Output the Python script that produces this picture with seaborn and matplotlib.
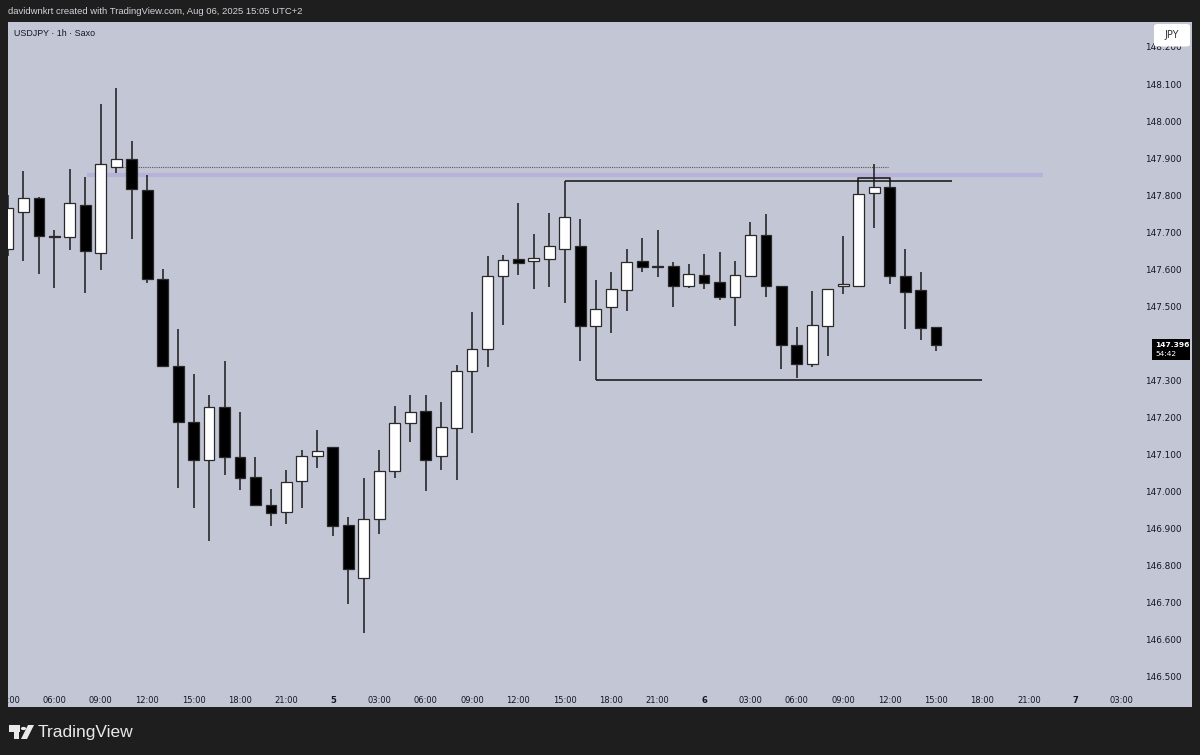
import numpy as np
import matplotlib.pyplot as plt
import seaborn as sns
from matplotlib.patches import Rectangle, FancyBboxPatch, Polygon, Circle
from matplotlib.transforms import Bbox, TransformedBbox

# --- Dados: velas de 1h do USDJPY (hora contada a partir de 04/08 00:00) ---
hours = list(range(3, 64))
opens = [147.655, 147.755, 147.793, 147.691, 147.687, 147.774, 147.645, 147.877, 147.897, 147.814,
         147.574, 147.339, 147.189, 147.085, 147.228, 147.093, 147.040, 146.964, 146.944, 147.028,
         147.096, 147.120, 146.909, 146.767, 146.925, 147.057, 147.184, 147.217, 147.096, 147.173,
         147.326, 147.385, 147.581, 147.628, 147.622, 147.627, 147.655, 147.664, 147.446, 147.497,
         147.543, 147.622, 147.608, 147.609, 147.556, 147.585, 147.565, 147.524, 147.581, 147.693,
         147.554, 147.396, 147.344, 147.448, 147.554, 147.556, 147.805, 147.823, 147.582, 147.544,
         147.444]
highs = [147.800, 147.865, 147.795, 147.706, 147.871, 147.850, 148.046, 148.090, 147.946, 147.854,
         147.600, 147.438, 147.318, 147.260, 147.353, 147.214, 147.094, 147.008, 147.058, 147.112,
         147.166, 147.120, 146.932, 147.036, 147.112, 147.231, 147.262, 147.260, 147.241, 147.341,
         147.485, 147.636, 147.639, 147.778, 147.696, 147.751, 147.837, 147.735, 147.571, 147.593,
         147.654, 147.684, 147.705, 147.621, 147.614, 147.641, 147.646, 147.623, 147.727, 147.749,
         147.556, 147.445, 147.542, 147.547, 147.690, 147.803, 147.884, 147.823, 147.654, 147.593,
         147.445]
lows = [147.636, 147.623, 147.587, 147.550, 147.652, 147.535, 147.598, 147.861, 147.681, 147.564,
        147.339, 147.009, 146.957, 146.867, 147.045, 147.004, 146.961, 146.908, 146.913, 146.955,
        147.064, 146.881, 146.697, 146.618, 146.885, 147.036, 147.133, 147.003, 147.058, 147.032,
        147.157, 147.336, 147.451, 147.584, 147.548, 147.553, 147.510, 147.353, 147.301, 147.429,
        147.488, 147.592, 147.580, 147.499, 147.549, 147.548, 147.518, 147.448, 147.581, 147.526,
        147.332, 147.308, 147.336, 147.367, 147.534, 147.556, 147.712, 147.560, 147.440, 147.408,
        147.380]
closes = [147.765, 147.793, 147.691, 147.686, 147.780, 147.649, 147.883, 147.897, 147.816, 147.575,
          147.340, 147.189, 147.085, 147.229, 147.094, 147.037, 146.965, 146.943, 147.025, 147.096,
          147.109, 146.908, 146.791, 146.925, 147.055, 147.185, 147.216, 147.085, 147.174, 147.326,
          147.386, 147.582, 147.626, 147.618, 147.630, 147.664, 147.742, 147.448, 147.493, 147.547,
          147.619, 147.606, 147.607, 147.556, 147.587, 147.562, 147.525, 147.584, 147.692, 147.554,
          147.396, 147.344, 147.449, 147.547, 147.560, 147.803, 147.821, 147.582, 147.539, 147.442,
          147.396]

# desenhos do usuário: (hora inicial, hora final, preço)
dotted_level = (10, 59.9, 147.877)
purple_level = (8.1, 69.9, 147.855)
range_top = (39, 64.0, 147.837)
range_bottom = (41, 66.0, 147.301)
bracket_x = [57.97, 57.97, 60.0, 60.0]
bracket_y = [147.803, 147.846, 147.846, 147.823]

# 147.400 fica escondido atrás do rótulo do último preço
price_ticks = [146.5, 146.6, 146.7, 146.8, 146.9, 147.0, 147.1, 147.2, 147.3,
               147.5, 147.6, 147.7, 147.8, 147.9, 148.0, 148.1, 148.2]
time_ticks = list(range(3, 76, 3))
day_labels = {24: "5", 48: "6", 72: "7"}
last_price_label = "147.396"
countdown_label = "54:42"

W, H = 1200, 755
BG = "#1e1e1e"
PANE = "#c3c6d4"
TXT = "#131722"


def fx(x):
    return x / W


def fy(y):
    return 1 - y / H


def main():
    sns.set_style("white")
    plt.rcParams['font.family'] = ['DejaVu Sans']

    fig = plt.figure(figsize=(12, 7.55), dpi=100, facecolor=BG)

    # painel claro do gráfico (atrás dos eixos)
    pane = Rectangle((fx(8), fy(707)), fx(1192) - fx(8), fy(22) - fy(707),
                     transform=fig.transFigure, facecolor=PANE, edgecolor="none", zorder=-5)
    fig.patches.append(pane)

    ax = fig.add_axes([fx(8), fy(685), fx(1137) - fx(8), fy(22) - fy(685)])
    ax.set_facecolor("none")
    for s in ax.spines.values():
        s.set_visible(False)

    # linhas horizontais desenhadas
    ax.hlines(purple_level[2], purple_level[0], purple_level[1], color="#b3addb",
              lw=3.0, alpha=0.8, zorder=1)
    ax.hlines(dotted_level[2], dotted_level[0], dotted_level[1], color="#55575f",
              lw=0.8, linestyles=(0, (1, 1)), zorder=1)
    ax.hlines(range_top[2], range_top[0], range_top[1], color="#111111", lw=1.1, zorder=1)
    ax.hlines(range_bottom[2], range_bottom[0], range_bottom[1], color="#111111", lw=1.1, zorder=1)
    ax.plot(bracket_x, bracket_y, color="#111111", lw=1.1, zorder=1)

    # velas
    o = np.array(opens)
    c = np.array(closes)
    up = c >= o
    ax.vlines(hours, lows, highs, color="#1a1a1a", lw=1.1, zorder=2)
    body_lo = np.minimum(o, c)
    body_h = np.maximum(np.abs(c - o), 0.0025)
    fills = np.where(up, "#ffffff", "#000000")
    ax.bar(hours, body_h, bottom=body_lo, width=0.7, color=fills,
           edgecolor="#2a2a2a", linewidth=0.9, zorder=3)

    ax.set_xlim(3.2956, 75.99)
    ax.set_ylim(146.4783, 148.2673)

    # eixo de preços à direita
    ax.yaxis.tick_right()
    ax.set_yticks(price_ticks)
    ax.set_yticklabels([f"{p:.3f}" for p in price_ticks])
    ax.tick_params(axis="y", length=0, pad=6, labelsize=6.4, labelcolor=TXT)

    # eixo de tempo
    ax.set_xticks(time_ticks)
    labels = [day_labels.get(h, f"{h % 24:02d}:00") for h in time_ticks]
    ax.set_xticklabels(labels)
    ax.tick_params(axis="x", length=0, pad=8, labelsize=6, labelcolor=TXT)
    clip = TransformedBbox(Bbox.from_extents(fx(8), fy(707), fx(1192), fy(22)), fig.transFigure)
    for lbl, h in zip(ax.get_xticklabels(), time_ticks):
        if h in day_labels:
            lbl.set_fontweight("bold")
        lbl.set_clip_box(clip)
        lbl.set_clip_on(True)

    # rótulo do último preço
    fig.canvas.draw()
    py = ax.transData.transform((0, closes[-1]))[1]
    ypix = H - py
    fig.patches.append(Rectangle((fx(1152), fy(ypix + 15)), fx(1190) - fx(1152), fy(ypix - 6) - fy(ypix + 15),
                                 transform=fig.transFigure, facecolor="#000000", edgecolor="none", zorder=5))
    fig.text(fx(1155), fy(ypix), last_price_label, color="white", fontsize=5.4, fontweight="bold",
             va="center", ha="left", zorder=6)
    fig.text(fx(1155), fy(ypix + 9), countdown_label, color="white", fontsize=5.4,
             va="center", ha="left", zorder=6)

    # caixa da moeda (cobre quase todo o 148.200)
    fig.patches.append(FancyBboxPatch((fx(1154), fy(46.5)), fx(1190) - fx(1154), fy(24) - fy(46.5),
                                      boxstyle="round,pad=0,rounding_size=0.003",
                                      transform=fig.transFigure, facecolor="white",
                                      edgecolor="none", zorder=5))
    fig.text(fx(1172), fy(35), "JPY", color="#333333", fontsize=7, ha="center", va="center", zorder=6)

    # cabeçalhos
    fig.text(fx(8), fy(12), "davidwnkrt created with TradingView.com, Aug 06, 2025 15:05 UTC+2",
             color="#d1d4dc", fontsize=6.8, family="Liberation Sans", ha="left", va="center")
    fig.text(fx(14), fy(33), "USDJPY · 1h · Saxo", color=TXT, fontsize=6.4,
             family="Liberation Sans", ha="left", va="center")

    # logo TradingView
    logo = "#e9e9ea"
    fig.patches.append(Rectangle((fx(9), fy(732)), fx(20) - fx(9), fy(725) - fy(732),
                                 transform=fig.transFigure, facecolor=logo, edgecolor="none"))
    fig.patches.append(Rectangle((fx(14), fy(739)), fx(19) - fx(14), fy(731) - fy(739),
                                 transform=fig.transFigure, facecolor=logo, edgecolor="none"))
    fig.patches.append(Circle((fx(23.5), fy(728.5)), 2.6 / W, transform=fig.transFigure,
                              facecolor=logo, edgecolor="none"))
    fig.patches.append(Polygon([(fx(28), fy(725)), (fx(34), fy(725)), (fx(27), fy(739)), (fx(21), fy(739))],
                               closed=True, transform=fig.transFigure, facecolor=logo, edgecolor="none"))
    fig.text(fx(38), fy(732), "TradingView", color=logo, fontsize=12.5, family="Liberation Sans",
             ha="left", va="center")

    fig.savefig("out.png", dpi=100, facecolor=BG)


if __name__ == "__main__":
    main()
